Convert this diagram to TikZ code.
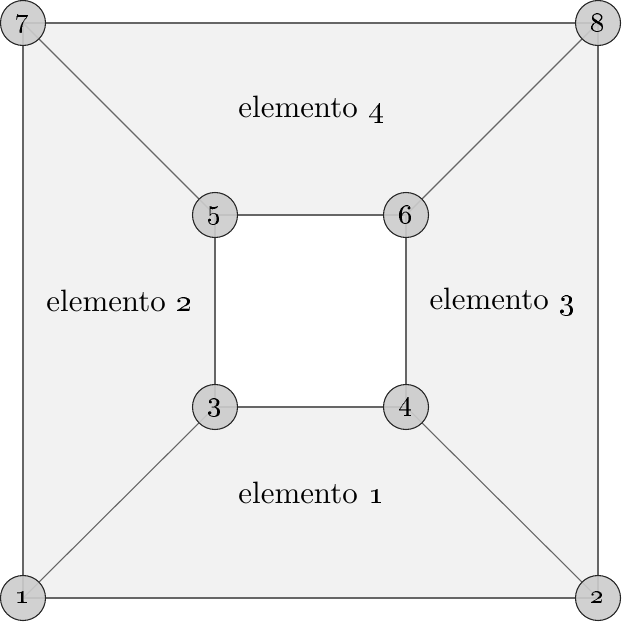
\documentclass[tikz,border=0pt]{standalone}
\begin{document}
\begin{tikzpicture}[x=0.3236pt,y=-0.3236pt,
  nd/.style={circle,draw=black!85,line width=0.35pt,fill=black!20,fill opacity=0.9,text opacity=1,
    minimum size=45*0.3236pt,inner sep=0pt,font=\fontsize{9.5}{10}\selectfont},
  edge/.style={draw=black!60,line width=0.35pt},
  lbl/.style={font=\fontsize{10}{12}\selectfont}]
\useasboundingbox (0,0) rectangle (622,622);
% shaded region between the outer and inner squares
\fill[black!5,even odd rule] (23,23) rectangle (598,598) (215,215) rectangle (406,407);
% mesh coordinates
\coordinate (p1) at (23,598);
\coordinate (p2) at (598,598);
\coordinate (p3) at (215,407);
\coordinate (p4) at (406,407);
\coordinate (p5) at (215,215);
\coordinate (p6) at (406,215);
\coordinate (p7) at (23,23);
\coordinate (p8) at (598,23);
% element edges
\draw[edge] (p1) -- (p2) -- (p8) -- (p7) -- (p1);
\draw[edge] (p3) -- (p4) -- (p6) -- (p5) -- (p3);
\draw[edge] (p1) -- (p3) (p2) -- (p4) (p8) -- (p6) (p7) -- (p5);
% nodes
\foreach \i in {1,...,8} \node[nd] (n\i) at (p\i) {\oldstylenums{\i}};
% element labels
\node[lbl] (e4) at (311,110) {elemento \oldstylenums{4}};
\node[lbl] (e2) at (119,301) {elemento \oldstylenums{2}};
\node[lbl] (e3) at (502,302) {elemento \oldstylenums{3}};
\node[lbl] (e1) at (311,493) {elemento \oldstylenums{1}};
\end{tikzpicture}
\end{document}
